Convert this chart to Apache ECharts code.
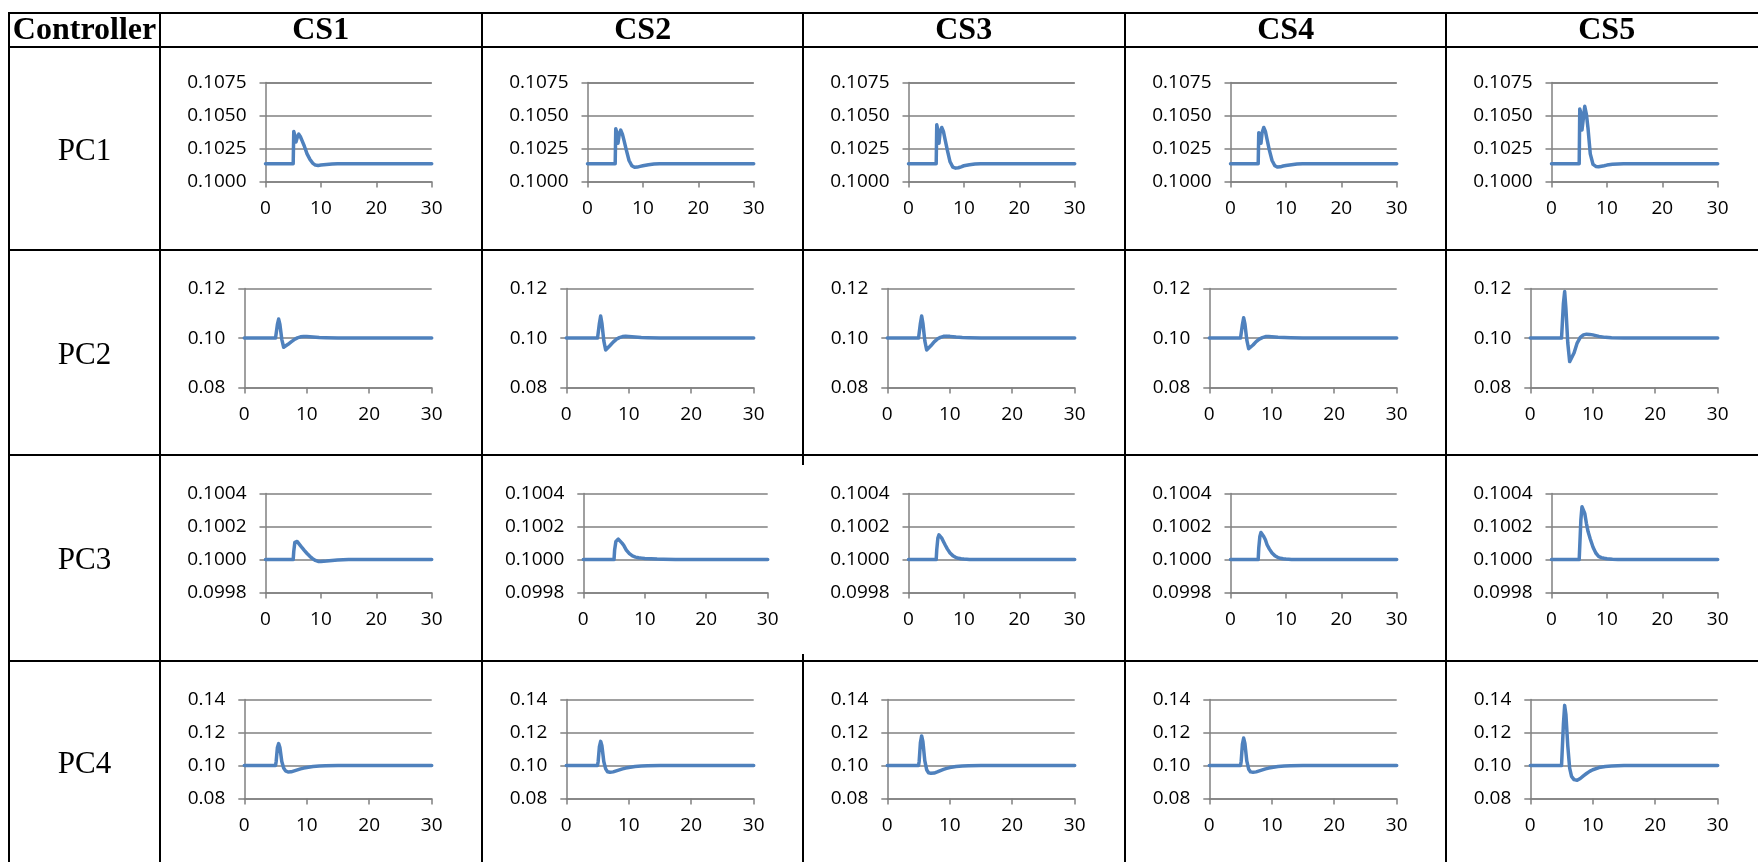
<!DOCTYPE html>
<html><head><meta charset="utf-8">
<script src="https://cdn.jsdelivr.net/npm/echarts@6/dist/echarts.min.js"></script>
<style>html,body{margin:0;padding:0;background:#fff}#c{width:1758px;height:862px}</style>
</head><body><div id="c"></div><script>
// ---------------- data ----------------
const headerLabel = 'Controller';
const controllers = ['PC1', 'PC2', 'PC3', 'PC4'];
const cases = ['CS1', 'CS2', 'CS3', 'CS4', 'CS5'];
const xTicks = [0, 10, 20, 30];
const yTicksPC1 = ['0.1000', '0.1025', '0.1050', '0.1075'];
const yTicksPC2 = ['0.08', '0.10', '0.12'];
const yTicksPC3 = ['0.0998', '0.1000', '0.1002', '0.1004'];
const yTicksPC4 = ['0.08', '0.10', '0.12', '0.14'];
const time = [0, 5, 5.1, 5.3, 5.5, 5.7, 6, 6.3, 6.6, 7, 7.5, 8, 8.5, 9, 9.5, 10, 11, 12, 13, 15, 20, 25, 30];

const pc1_cs1 = [0.10135,0.10135,0.1038,0.1035,0.1030,0.1033,0.1036,0.1034,0.1031,0.1027,0.1021,0.1017,0.1014,0.10125,0.10122,0.10125,0.1013,0.10134,0.10135,0.10135,0.10135,0.10135,0.10135];
const pc1_cs2 = [0.10135,0.10135,0.1040,0.1037,0.1029,0.1035,0.1039,0.1036,0.1031,0.1024,0.1016,0.1012,0.10108,0.1011,0.10115,0.1012,0.10128,0.10133,0.10135,0.10135,0.10135,0.10135,0.10135];
const pc1_cs3 = [0.10135,0.10135,0.1043,0.1039,0.1029,0.1037,0.1041,0.1038,0.1032,0.1024,0.1015,0.1011,0.10102,0.10105,0.10112,0.1012,0.10128,0.10133,0.10135,0.10135,0.10135,0.10135,0.10135];
const pc1_cs4 = [0.10135,0.10135,0.1037,0.1035,0.1029,0.1037,0.1041,0.1038,0.1032,0.1024,0.1016,0.1012,0.1011,0.10112,0.10118,0.10122,0.10128,0.10133,0.10135,0.10135,0.10135,0.10135,0.10135];
const pc1_cs5 = [0.10135,0.10135,0.1055,0.1052,0.1039,0.1046,0.1057,0.1051,0.1040,0.1021,0.1013,0.10115,0.10112,0.10116,0.1012,0.10125,0.10131,0.10134,0.10135,0.10135,0.10135,0.10135,0.10135];

const pc2_cs1 = [0.1,0.1,0.1,0.1055,0.1077,0.1055,0.0995,0.0963,0.0965,0.0975,0.0985,0.0994,0.1001,0.1005,0.1006,0.1006,0.1004,0.1002,0.1001,0.1,0.1,0.1,0.1];
const pc2_cs2 = [0.1,0.1,0.1,0.1060,0.1089,0.1060,0.0990,0.0952,0.0955,0.0970,0.0984,0.0995,0.1002,0.1006,0.1007,0.1006,0.1004,0.1002,0.1001,0.1,0.1,0.1,0.1];
const pc2_cs3 = [0.1,0.1,0.1,0.1060,0.1089,0.1060,0.0990,0.0952,0.0955,0.0970,0.0985,0.0996,0.1003,0.1007,0.1008,0.1007,0.1004,0.1002,0.1001,0.1,0.1,0.1,0.1];
const pc2_cs4 = [0.1,0.1,0.1,0.1055,0.1082,0.1058,0.0993,0.0957,0.0959,0.0972,0.0986,0.0996,0.1002,0.1006,0.1006,0.1005,0.1003,0.1002,0.1001,0.1,0.1,0.1,0.1];
const pc2_cs5 = [0.1,0.1,0.1,0.1140,0.1188,0.1120,0.0980,0.0905,0.0910,0.0940,0.0980,0.1003,0.1013,0.1016,0.1015,0.1013,0.1007,0.1003,0.1001,0.1,0.1,0.1,0.1];

const pc3_cs1 = [0.1,0.1,0.10005,0.100105,0.100113,0.10011,0.100098,0.100085,0.100072,0.100056,0.100037,0.10002,0.100006,0.099995,0.099989,0.099988,0.099991,0.099995,0.099998,0.1,0.1,0.1,0.1];
const pc3_cs2 = [0.1,0.1,0.10006,0.10011,0.100122,0.100124,0.100115,0.1001,0.100085,0.100058,0.100036,0.100022,0.100015,0.100011,0.100009,0.100007,0.100005,0.100003,0.100002,0.1,0.1,0.1,0.1];
const pc3_cs3 = [0.1,0.1,0.10006,0.10013,0.10015,0.10015,0.10013,0.10011,0.10009,0.100065,0.10004,0.100024,0.100014,0.100008,0.100005,0.100003,0.100001,0.1,0.1,0.1,0.1,0.1,0.1];
const pc3_cs4 = [0.1,0.1,0.10007,0.10014,0.100164,0.10016,0.10014,0.10012,0.10009,0.100065,0.10004,0.100024,0.100014,0.100008,0.100005,0.100003,0.100001,0.1,0.1,0.1,0.1,0.1,0.1];
const pc3_cs5 = [0.1,0.1,0.10008,0.10024,0.10032,0.100325,0.10028,0.10022,0.10017,0.100125,0.100075,0.10004,0.10002,0.100012,0.100008,0.100005,0.100002,0.1,0.1,0.1,0.1,0.1,0.1];

const pc4_cs1 = [0.1,0.1,0.1025,0.1110,0.1133,0.1110,0.1025,0.0985,0.0968,0.0961,0.0962,0.0968,0.0974,0.0980,0.0985,0.0989,0.0995,0.0998,0.0999,0.1,0.1,0.1,0.1];
const pc4_cs2 = [0.1,0.1,0.1025,0.1115,0.1147,0.1120,0.1025,0.0980,0.0963,0.0960,0.0962,0.0968,0.0974,0.0980,0.0985,0.0989,0.0995,0.0998,0.0999,0.1,0.1,0.1,0.1];
const pc4_cs3 = [0.1,0.1,0.1025,0.1140,0.1180,0.1145,0.1030,0.0975,0.0957,0.0953,0.0955,0.0962,0.0970,0.0977,0.0983,0.0988,0.0994,0.0998,0.0999,0.1,0.1,0.1,0.1];
const pc4_cs4 = [0.1,0.1,0.1025,0.1130,0.1167,0.1135,0.1028,0.0978,0.0962,0.0960,0.0962,0.0968,0.0974,0.0980,0.0985,0.0989,0.0995,0.0998,0.0999,0.1,0.1,0.1,0.1];
const pc4_cs5 = [0.1,0.1,0.1,0.1250,0.1365,0.1310,0.1120,0.0985,0.0935,0.0915,0.0911,0.0922,0.0938,0.0952,0.0965,0.0975,0.0988,0.0995,0.0998,0.1,0.1,0.1,0.1];

const seriesTable = [
  [pc1_cs1, pc1_cs2, pc1_cs3, pc1_cs4, pc1_cs5],
  [pc2_cs1, pc2_cs2, pc2_cs3, pc2_cs4, pc2_cs5],
  [pc3_cs1, pc3_cs2, pc3_cs3, pc3_cs4, pc3_cs5],
  [pc4_cs1, pc4_cs2, pc4_cs3, pc4_cs4, pc4_cs5]
];
const yTickTable = [yTicksPC1, yTicksPC2, yTicksPC3, yTicksPC4];

// ---------------- layout ----------------
const colX = [9, 160, 482, 803, 1125, 1446];
const rowY = [13, 47, 250, 455, 661];
const LINE = '#4F81BD', GRIDC = '#808080', TXT = '#000';
const labelFont = '"Open Sans"';
const labelSize = 19;
const serif = '"Liberation Serif", "Times New Roman", serif';

const grids = [], xAxes = [], yAxes = [], series = [];
let gi = 0;
controllers.forEach((pc, r) => {
  const ticks = yTickTable[r];
  const dec = ticks[0].split('.')[1].length;
  const ymin = Number(ticks[0]), ymax = Number(ticks[ticks.length - 1]);
  const step = Number(ticks[1]) - Number(ticks[0]);
  cases.forEach((cs, c) => {
    const cl = colX[c + 1];
    let left = cl + (dec === 4 ? 105.5 : 84.3);
    let right = cl + 271.7;
    if (r === 2 && c === 1) { left = cl + 101.3; right = cl + 285.7; }
    const rt = [44, 250, 455, 661][r];
    grids.push({ left: left, top: rt + 38.6, width: right - left, height: 99, containLabel: false });
    xAxes.push({
      type: 'value', gridIndex: gi, min: xTicks[0], max: xTicks[xTicks.length - 1],
      interval: xTicks[1] - xTicks[0],
      axisLine: { show: true, onZero: false, lineStyle: { color: GRIDC, width: 1.5 } },
      axisTick: { show: true, length: 6, lineStyle: { color: GRIDC, width: 1.5 } },
      axisLabel: { color: TXT, fontFamily: labelFont, fontSize: labelSize, margin: 17 },
      splitLine: { show: false }
    });
    yAxes.push({
      type: 'value', gridIndex: gi, min: ymin, max: ymax, interval: step,
      axisLine: { show: true, lineStyle: { color: GRIDC, width: 1.5 } },
      axisTick: { show: true, length: 6, lineStyle: { color: GRIDC, width: 1.5 } },
      axisLabel: { color: TXT, fontFamily: labelFont, fontSize: labelSize, margin: 19,
        formatter: v => v.toFixed(dec) },
      splitLine: { show: true, lineStyle: { color: GRIDC, width: 1.5 } }
    });
    const vals = seriesTable[r][c];
    series.push({
      type: 'line', name: pc + ' ' + cs, xAxisIndex: gi, yAxisIndex: gi,
      data: time.map((t, k) => [t, vals[k]]),
      showSymbol: false, symbol: 'none', smooth: false,
      lineStyle: { color: LINE, width: 3.5, join: 'round', cap: 'round' },
      silent: true
    });
    gi++;
  });
});

// table lines and texts
const graphics = [];
const lw = 2;
const hLine = (y, x1, x2) => graphics.push({ type: 'line', shape: { x1, y1: y, x2, y2: y }, style: { stroke: '#000', lineWidth: lw }, z: 100 });
const vLine = (x, y1, y2) => graphics.push({ type: 'line', shape: { x1: x, y1, x2: x, y2 }, style: { stroke: '#000', lineWidth: lw }, z: 100 });
rowY.forEach(y => hLine(y, colX[0] - 1, 1758));
colX.forEach((x, i) => {
  if (i === 3) {
    vLine(x, rowY[0], 465);
    vLine(x, 654, 862);
  } else vLine(x, rowY[0], 862);
});
const hy = (rowY[0] + rowY[1]) / 2 + 1;
graphics.push({ type: 'text', x: (colX[0] + colX[1]) / 2, y: hy, style: { text: headerLabel, font: 'bold 32px ' + serif, fill: TXT, textAlign: 'center', textVerticalAlign: 'middle' }, z: 101 });
cases.forEach((cs, c) => {
  graphics.push({ type: 'text', x: colX[c + 1] + 160.7, y: hy, style: { text: cs, font: 'bold 32px ' + serif, fill: TXT, textAlign: 'center', textVerticalAlign: 'middle' }, z: 101 });
});
controllers.forEach((pc, r) => {
  const yb = r < 3 ? rowY[r + 2] : 862;
  graphics.push({ type: 'text', x: (colX[0] + colX[1]) / 2, y: (rowY[r + 1] + yb) / 2 + 3, style: { text: pc, font: '31px ' + serif, fill: TXT, textAlign: 'center', textVerticalAlign: 'middle' }, z: 101 });
});

const chart = echarts.init(document.getElementById('c'), null, { renderer: 'canvas' });
chart.setOption({
  animation: false,
  backgroundColor: '#fff',
  grid: grids, xAxis: xAxes, yAxis: yAxes, series: series,
  graphic: graphics
});
</script></body></html>
